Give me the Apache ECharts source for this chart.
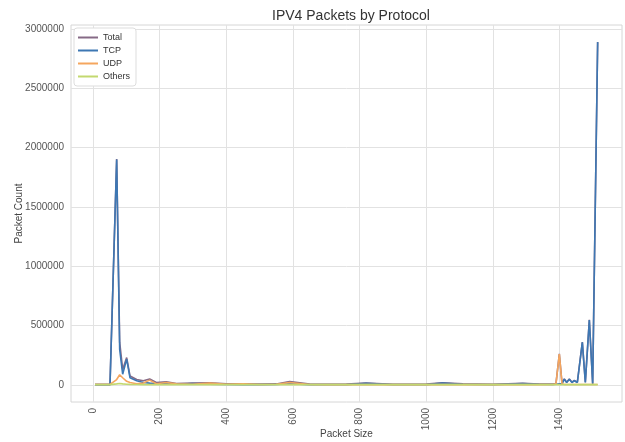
<!DOCTYPE html>
<html>
<head>
<meta charset="utf-8">
<title>IPV4 Packets by Protocol</title>
<script src="https://cdn.jsdelivr.net/npm/echarts@6/dist/echarts.min.js"></script>
<style>
  html, body { margin: 0; padding: 0; background: #ffffff; }
  #main { width: 625px; height: 442px; }
</style>
</head>
<body>
<div id="main"></div>
<script>
// packet sizes (x) and counts
const sizes = [6, 30, 51, 71, 80, 89, 101, 111, 131, 151, 170, 190, 220, 250, 298, 350, 400, 450, 500, 550, 590, 650, 700, 760, 819, 900, 1000, 1048, 1110, 1200, 1289, 1338, 1380, 1389, 1399, 1407, 1414, 1421, 1429, 1437, 1444, 1453, 1468, 1477, 1489, 1499, 1514]
const totalCounts = [5, 5, 6, 1905, 360, 130, 230, 75, 45, 35, 50, 20, 25, 12, 16, 18, 8, 10, 6, 8, 28, 6, 5, 6, 16, 5, 6, 17, 8, 5, 14, 7, 6, 12, 262, 15, 50, 22, 50, 22, 37, 22, 360, 22, 549, 12, 2892]
const tcpCounts = [0, 0, 0, 1900, 300, 90, 217, 60, 35, 20, 15, 10, 8, 5, 12, 5, 3, 2, 2, 3, 10, 2, 2, 2, 14, 2, 2, 15, 5, 2, 12, 5, 3, 5, 10, 8, 48, 20, 48, 20, 35, 20, 358, 20, 547, 10, 2890]
const udpCounts = [3, 3, 4, 45, 85, 60, 30, 20, 10, 15, 40, 10, 20, 8, 5, 15, 5, 8, 3, 5, 20, 3, 2, 3, 2, 2, 3, 2, 3, 2, 2, 2, 3, 10, 260, 10, 3, 3, 3, 3, 3, 3, 3, 3, 3, 3, 3]
const otherCounts = [2, 2, 2, 8, 12, 8, 5, 4, 3, 2, 2, 2, 2, 2, 2, 2, 2, 2, 2, 2, 2, 2, 2, 2, 2, 2, 2, 2, 2, 2, 2, 2, 2, 2, 2, 2, 2, 2, 2, 2, 2, 2, 2, 2, 2, 2, 2]
const xTicks = [0, 200, 400, 600, 800, 1000, 1200, 1400]
const yTicks = [0, 500000, 1000000, 1500000, 2000000, 2500000, 3000000]

// counts are in thousands
function pairs(counts) {
  return sizes.map((s, i) => [s, counts[i] * 1000])
}

const charts = echarts.init(document.getElementById('main'))
const lineSeries = [
  { name: 'Total', data: totalCounts, color: '#866a86' },
  { name: 'TCP', data: tcpCounts, color: '#3d77b3' },
  { name: 'UDP', data: udpCounts, color: '#f5a65e' },
  { name: 'Others', data: otherCounts, color: '#c3d86f' }
]

charts.setOption({
  animation: false,
  textStyle: {
    fontFamily: 'Liberation Sans, Arial, sans-serif'
  },
  title: {
    text: 'IPV4 Packets by Protocol',
    left: 346,
    textAlign: 'center',
    top: 4,
    textStyle: {
      fontSize: 14,
      fontWeight: 'normal',
      color: '#333333'
    }
  },
  legend: {
    left: 74,
    top: 28,
    orient: 'vertical',
    icon: 'rect',
    itemWidth: 20,
    itemHeight: 2,
    itemGap: 2,
    padding: [4, 6, 4, 4],
    borderColor: '#dddddd',
    borderWidth: 1,
    borderRadius: 3,
    backgroundColor: '#ffffff',
    textStyle: {
      fontSize: 9,
      lineHeight: 11,
      color: '#333333'
    },
    data: ['Total', 'TCP', 'UDP', 'Others']
  },
  grid: {
    left: 71,
    right: 3,
    top: 25,
    bottom: 40,
    outerBoundsMode: 'none',
    show: true,
    borderColor: '#d6d6d6',
    borderWidth: 1
  },
  xAxis: {
    type: 'value',
    min: -66,
    max: 1587,
    name: 'Packet Size',
    nameLocation: 'middle',
    nameGap: 27,
    nameMoveOverlap: false,
    nameTextStyle: {
      fontSize: 10,
      color: '#444444'
    },
    axisLine: { show: false },
    axisTick: { show: false, customValues: xTicks },
    axisLabel: {
      customValues: xTicks,
      rotate: 90,
      fontSize: 10,
      color: '#555555',
      margin: 6,
      formatter: v => String(v)
    },
    splitLine: {
      show: true,
      lineStyle: { color: '#e2e2e2', width: 1 }
    }
  },
  yAxis: {
    type: 'value',
    min: -144500,
    max: 3034500,
    name: 'Packet Count',
    nameLocation: 'middle',
    nameGap: 47,
    nameMoveOverlap: false,
    nameTextStyle: {
      fontSize: 10,
      color: '#444444'
    },
    axisLine: { show: false },
    axisTick: { show: false, customValues: yTicks },
    axisLabel: {
      customValues: yTicks,
      fontSize: 10,
      color: '#555555',
      margin: 7,
      formatter: v => String(v)
    },
    splitLine: {
      show: true,
      lineStyle: { color: '#e2e2e2', width: 1 }
    }
  },
  series: lineSeries.map(item => ({
    name: item.name,
    type: 'line',
    symbol: 'none',
    data: pairs(item.data),
    itemStyle: { color: item.color },
    lineStyle: { color: item.color, width: 1.6 }
  }))
})
</script>
</body>
</html>
